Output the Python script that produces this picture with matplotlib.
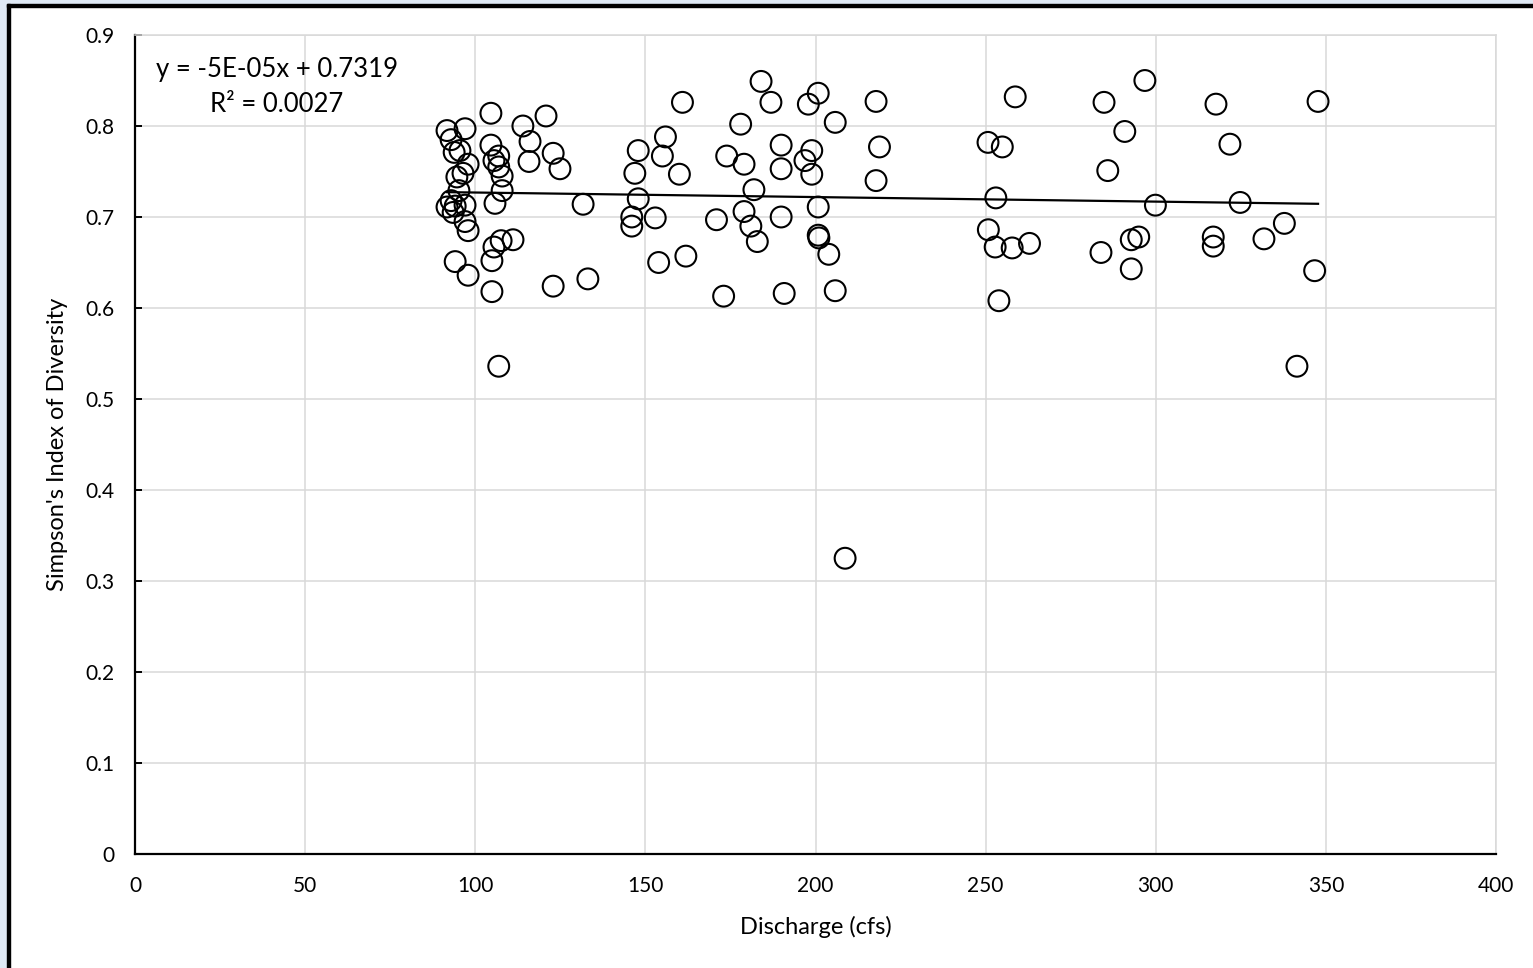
import matplotlib.pyplot as plt
from matplotlib.patches import Rectangle
import numpy as np

# discharge (cfs) and Simpson's index
discharge = [
    91.7, 92.9, 97.0, 104.6, 93.8, 95.5, 97.9, 96.4, 94.6, 95.2,
    91.7, 92.9, 93.5, 94.1, 97.0, 97.0, 97.9, 94.1, 97.9, 104.6,
    105.5, 106.9, 106.9, 107.9, 107.9, 105.8, 107.6, 105.5, 104.9, 104.9,
    106.9, 111.1, 114.0, 116.1, 115.8, 120.8, 122.9, 124.9, 122.9, 131.7,
    133.1,
    160.9, 184.0, 186.9, 197.9, 200.8, 217.8, 178.0, 205.8, 155.9, 147.9,
    155.0, 173.9, 179.0, 189.9, 189.9, 198.9, 196.9, 198.9, 218.8, 217.8,
    146.9, 160.0, 181.9, 147.9, 146.0, 146.0, 152.9, 170.9, 179.0, 181.0,
    182.9, 189.9, 200.8, 200.8, 201.0, 203.9, 153.9, 161.9, 173.0, 190.8,
    205.8, 208.7,
    258.7, 284.8, 296.8, 317.7, 347.7, 250.7, 254.9, 290.9, 321.8, 285.9,
    253.0, 299.9, 324.8, 250.8, 252.8, 257.8, 262.9, 283.9, 292.8, 295.0,
    292.8, 316.9, 316.9, 331.8, 337.8, 346.7, 253.9, 341.5,
]
simpson = [
    0.795, 0.785, 0.797, 0.814, 0.771, 0.773, 0.758, 0.748, 0.744, 0.729,
    0.711, 0.718, 0.705, 0.712, 0.713, 0.695, 0.685, 0.651, 0.636, 0.779,
    0.762, 0.767, 0.755, 0.745, 0.729, 0.715, 0.674, 0.667, 0.652, 0.618,
    0.536, 0.675, 0.800, 0.783, 0.761, 0.811, 0.770, 0.753, 0.624, 0.714,
    0.632,
    0.826, 0.849, 0.826, 0.824, 0.836, 0.827, 0.802, 0.804, 0.788, 0.773,
    0.767, 0.767, 0.758, 0.779, 0.753, 0.773, 0.762, 0.747, 0.777, 0.740,
    0.748, 0.747, 0.730, 0.720, 0.700, 0.690, 0.699, 0.697, 0.706, 0.690,
    0.673, 0.700, 0.711, 0.680, 0.677, 0.659, 0.650, 0.657, 0.613, 0.616,
    0.619, 0.325,
    0.832, 0.826, 0.850, 0.824, 0.827, 0.782, 0.777, 0.794, 0.780, 0.751,
    0.721, 0.713, 0.716, 0.686, 0.667, 0.666, 0.671, 0.661, 0.675, 0.678,
    0.643, 0.678, 0.668, 0.676, 0.693, 0.641, 0.608, 0.536,
]

# trendline as printed on the chart
slope = -5e-05
intercept = 0.7319
eq_text = "y = -5E-05x + 0.7319\nR\u00b2 = 0.0027"

x_ticks = list(range(0, 401, 50))
y_ticks = [0, 0.1, 0.2, 0.3, 0.4, 0.5, 0.6, 0.7, 0.8, 0.9]
y_ticklabels = ["0", "0.1", "0.2", "0.3", "0.4", "0.5", "0.6", "0.7", "0.8", "0.9"]

plt.rcParams['font.family'] = ['Lato', 'DejaVu Sans']

fig = plt.figure(figsize=(15.33, 9.68), dpi=100)
ax = fig.add_axes([135 / 1533, 1 - 854 / 968, (1496 - 135) / 1533, (854 - 35) / 968])

grid_col = '#d9d9d9'
ax.grid(True, color=grid_col, linewidth=1.1, zorder=0)
ax.set_axisbelow(True)

ax.scatter(discharge, simpson, s=15 ** 2, facecolors='none', edgecolors='black',
           linewidths=1.5, zorder=3)

xs = np.array([min(discharge), max(discharge)])
ax.plot(xs, slope * xs + intercept, color='black', linewidth=1.6, zorder=2)

ax.set_xlim(0, 400)
ax.set_ylim(0, 0.9)
ax.set_xticks(x_ticks)
ax.set_yticks(y_ticks)
ax.set_yticklabels(y_ticklabels)

for side in ['top', 'right']:
    ax.spines[side].set_color(grid_col)
    ax.spines[side].set_linewidth(1.1)
for side in ['left', 'bottom']:
    ax.spines[side].set_color('black')
    ax.spines[side].set_linewidth(1.6)

ax.tick_params(axis='y', direction='in', length=5, width=1.4, pad=15, labelsize=15)
ax.tick_params(axis='x', length=0, pad=16, labelsize=15)

ax.set_xlabel("Discharge (cfs)", fontsize=17, labelpad=14)
ax.set_ylabel("Simpson's Index of Diversity", fontsize=17, labelpad=12)

ax.text(277 / 1533, 1 - 87 / 968, eq_text, transform=fig.transFigure,
        ha='center', va='center', fontsize=18.5, linespacing=1.55)

# screenshot frame: light blue strip and black line along left and top
fig.add_artist(Rectangle((0, 0), 7 / 1533, 1, transform=fig.transFigure,
                         color='#dfe9f5', zorder=0))
fig.add_artist(Rectangle((0, 1 - 4 / 968), 1, 4 / 968, transform=fig.transFigure,
                         color='#dfe9f5', zorder=0))
fig.add_artist(Rectangle((7 / 1533, 0), 2.5 / 1533, 1 - 4 / 968, transform=fig.transFigure,
                         color='black', zorder=1))
fig.add_artist(Rectangle((7 / 1533, 1 - 7 / 968), 1, 3 / 968, transform=fig.transFigure,
                         color='black', zorder=1))

fig.savefig('out.png', dpi=100)
